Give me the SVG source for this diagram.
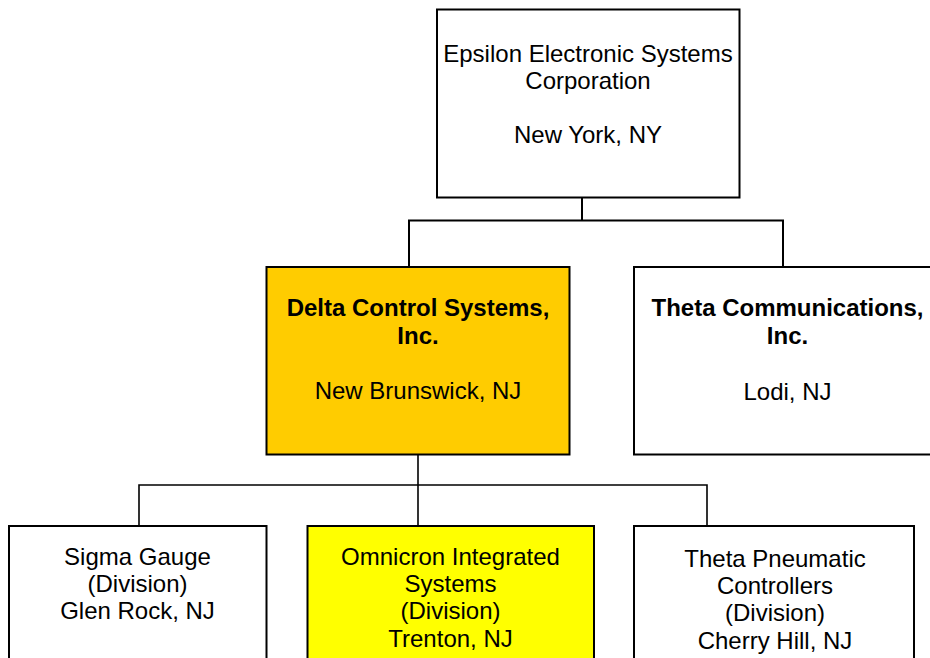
<svg xmlns="http://www.w3.org/2000/svg" width="930" height="658" viewBox="0 0 930 658">
  <style>
    .box { stroke: #000; stroke-width: 2; }
    .plain { fill: #fff; }
    .gold { fill: #ffcc00; }
    .yellow { fill: #ffff00; }
    text { font-family: "Liberation Sans", Arial, sans-serif; font-size: 24px; fill: #000; text-anchor: middle; }
    .b { font-weight: bold; }
    .link { fill: none; stroke: #000; stroke-width: 2; }
    .link2 { fill: none; stroke: #000; stroke-width: 1.6; }
  </style>
  <rect width="930" height="658" fill="#fff"/>

  <g id="connectors">
    <polyline class="link" points="582,198 582,220.5"/>
    <polyline class="link" points="409,267 409,220.5 783,220.5 783,267"/>
    <polyline class="link2" points="418,455 418,526"/>
    <polyline class="link2" points="139,526 139,485 707,485 707,526"/>
  </g>

  <g id="epsilon">
    <rect class="box plain" x="437" y="9.5" width="302.5" height="188"/>
    <text x="588" y="61.5">Epsilon Electronic Systems</text>
    <text x="588" y="88.5">Corporation</text>
    <text x="588" y="142.5">New York, NY</text>
  </g>

  <g id="delta">
    <rect class="box gold" x="266.5" y="267" width="303" height="187.5"/>
    <text class="b" x="418" y="316">Delta Control Systems,</text>
    <text class="b" x="418" y="343.5">Inc.</text>
    <text x="418" y="398.5">New Brunswick, NJ</text>
  </g>

  <g id="theta-comm">
    <rect class="box plain" x="634" y="267" width="310" height="187.5"/>
    <text class="b" x="787.5" y="316">Theta Communications,</text>
    <text class="b" x="787.5" y="343.5">Inc.</text>
    <text x="787.5" y="399.5">Lodi, NJ</text>
  </g>

  <g id="sigma">
    <rect class="box plain" x="9" y="526" width="257.5" height="140"/>
    <text x="137.5" y="564.5">Sigma Gauge</text>
    <text x="137.5" y="591.5">(Division)</text>
    <text x="137.5" y="619">Glen Rock, NJ</text>
  </g>

  <g id="omnicron">
    <rect class="box yellow" x="307.5" y="526" width="286.5" height="140"/>
    <text x="450.5" y="564.5">Omnicron Integrated</text>
    <text x="450.5" y="591.5">Systems</text>
    <text x="450.5" y="619">(Division)</text>
    <text x="450.5" y="646.5">Trenton, NJ</text>
  </g>

  <g id="theta-pneumatic">
    <rect class="box plain" x="634" y="526" width="280" height="140"/>
    <text x="775" y="567">Theta Pneumatic</text>
    <text x="775" y="594">Controllers</text>
    <text x="775" y="621">(Division)</text>
    <text x="775" y="648.5">Cherry Hill, NJ</text>
  </g>
</svg>
